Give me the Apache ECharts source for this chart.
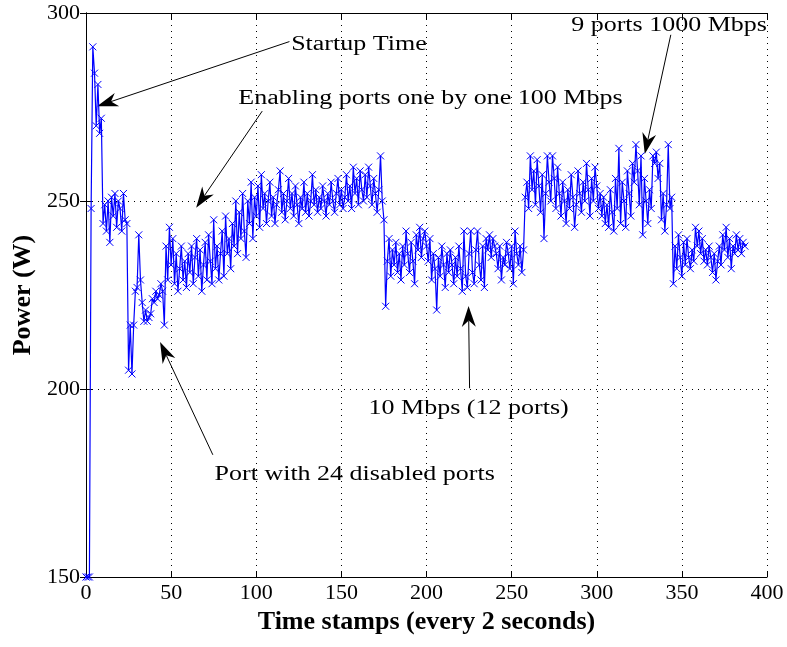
<!DOCTYPE html>
<html>
<head>
<meta charset="utf-8">
<script src="https://cdn.jsdelivr.net/npm/echarts@6/dist/echarts.min.js"></script>
<style>
  html, body { margin: 0; background: #fff; }
  #chart { width: 787px; height: 647px; }
</style>
</head>
<body>
<div id="chart"></div>
<script>
// power readings, one per time stamp (index = time stamp)
var power = [
  150, 150, 150, 248, 291, 284, 270, 281, 268, 272,
  244, 249, 242, 250, 239, 251, 246, 252, 243, 250,
  248, 242, 252, 245, 244, 205, 217, 204, 217, 226,
  227, 241, 229, 223, 218, 221, 218, 219, 220, 224,
  223, 226, 224, 225, 228, 226, 217, 238, 229, 243,
  233, 240, 228, 236, 226, 232, 238, 229, 234, 227,
  236, 231, 238, 228, 235, 240, 230, 237, 226, 233,
  239, 229, 241, 234, 228, 245, 232, 238, 229, 236,
  242, 230, 246, 236, 240, 232, 244, 238, 250, 236,
  247, 240, 252, 242, 235, 250, 244, 255, 240, 251,
  246, 254, 243, 257, 248, 252, 244, 250, 255, 246,
  251, 244, 249, 253, 258, 247, 252, 245, 250, 256,
  248, 252, 246, 254, 249, 244, 251, 248, 255, 247,
  252, 246, 250, 257, 249, 253, 247, 251, 248, 254,
  250, 246, 252, 249, 255, 250, 247, 252, 256, 249,
  253, 248, 251, 257, 250, 254, 248, 259, 252, 256,
  249, 258, 253, 250, 257, 251, 259, 254, 249, 256,
  252, 247, 253, 262, 250, 245, 222, 234, 240, 230,
  237, 233, 239, 231, 236, 229, 238, 233, 242, 236,
  231, 239, 234, 228, 241, 237, 243, 235, 240, 242,
  238, 234, 240, 229, 236, 232, 221, 235, 230, 238,
  233, 227, 236, 231, 237, 233, 228, 235, 230, 238,
  232, 226, 242, 230, 227, 236, 242, 231, 228, 237,
  242, 233, 229, 238, 227, 240, 237, 241, 235, 240,
  238, 236, 232, 238, 229, 235, 233, 239, 236, 232,
  238, 228, 242, 236, 233, 238, 231, 237, 251, 255,
  248, 262, 253, 258, 249, 261, 254, 247, 257, 240,
  252, 262, 255, 250, 262, 256, 248, 259, 252, 246,
  255, 250, 244, 253, 248, 257, 251, 243, 249, 258,
  252, 247, 255, 250, 260, 253, 246, 256, 250, 259,
  254, 248, 252, 246, 251, 244, 249, 243, 253, 247,
  242, 256, 248, 264, 244, 255, 250, 243, 258, 252,
  246, 260, 255, 265, 258, 249, 262, 241, 256, 250,
  244, 253, 248, 262, 260, 263, 256, 260, 245, 252,
  242, 249, 265, 248, 251, 228, 238, 232, 241, 235,
  230, 239, 233, 240, 235, 232, 237, 234, 243, 238,
  242, 236, 240, 234, 237, 233, 238, 235, 231, 236,
  229, 234, 238, 233, 241, 237, 243, 235, 240, 232,
  238, 236, 241, 237, 240, 236, 239, 238
];

var xTicks = [0, 50, 100, 150, 200, 250, 300, 350, 400];
var yTicks = [150, 200, 250, 300];

// annotations: text anchor (left, middle) and arrow tail -> tip, in data units
var noteText = ['Startup Time', 'Enabling ports one by one 100 Mbps', '9 ports 1000 Mbps',
                '10 Mbps (12 ports)', 'Port with 24 disabled ports'];
var noteAt   = [[120.5, 291.5], [89.5, 277.2], [285, 296.5], [166, 194.8], [75.5, 177.2]];
var noteTail = [[119.5, 292.4], [103.5, 273.9], [343.5, 294.2], [225.3, 200.2], [74.5, 182.5]];
var noteTip  = [[6.5, 275.2], [64.7, 248.2], [328.2, 262.5], [224.7, 222.1], [43.5, 212.5]];

var points = power.map(function (v, i) { return [i, v]; });

var chart = echarts.init(document.getElementById('chart'));
var serif = '"Liberation Serif", "DejaVu Serif", serif';
var dotted = { color: '#000', width: 1, type: [1, 5] };

var option = {
  animation: false,
  backgroundColor: '#fff',
  grid: { left: 86, right: 20, top: 13, bottom: 70 },
  xAxis: [{
    type: 'value', min: xTicks[0], max: xTicks[xTicks.length - 1], interval: 50,
    name: 'Time stamps (every 2 seconds)', nameLocation: 'middle', nameGap: 32,
    nameTextStyle: { fontFamily: serif, fontWeight: 'bold', fontSize: 26, color: '#000' },
    axisLine: { lineStyle: { color: '#000', width: 1 } },
    axisTick: { inside: true, length: 6, lineStyle: { color: '#000' } },
    axisLabel: { fontFamily: serif, fontSize: 22, color: '#000', margin: 5 },
    splitLine: { show: true, lineStyle: dotted }
  }, {
    type: 'value', position: 'top', min: xTicks[0], max: xTicks[xTicks.length - 1], interval: 50,
    axisLine: { lineStyle: { color: '#000', width: 1 } },
    axisTick: { inside: true, length: 6, lineStyle: { color: '#000' } },
    axisLabel: { show: false }, splitLine: { show: false }
  }],
  yAxis: [{
    type: 'value', min: yTicks[0], max: yTicks[yTicks.length - 1], interval: 50,
    name: 'Power (W)', nameLocation: 'middle', nameGap: 48,
    nameTextStyle: { fontFamily: serif, fontWeight: 'bold', fontSize: 26, color: '#000' },
    axisLine: { show: true, lineStyle: { color: '#000', width: 1 } },
    axisTick: { show: true, inside: true, length: 6, lineStyle: { color: '#000' } },
    axisLabel: { fontFamily: serif, fontSize: 22, color: '#000', margin: 6 },
    splitLine: { show: true, lineStyle: dotted }
  }, {
    type: 'value', position: 'right', min: yTicks[0], max: yTicks[yTicks.length - 1], interval: 50,
    axisLine: { show: true, lineStyle: { color: '#000', width: 1 } },
    axisTick: { show: true, inside: true, length: 6, lineStyle: { color: '#000' } },
    axisLabel: { show: false }, splitLine: { show: false }
  }],
  series: [{
    type: 'line',
    data: points,
    symbol: 'path://M0,0L10,10M10,0L0,10',
    symbolSize: 7,
    showAllSymbol: true,
    lineStyle: { color: '#0000ff', width: 1.2 },
    itemStyle: { color: 'rgba(0,0,0,0)', borderColor: '#0000ff', borderWidth: 1 },
    clip: true
  }]
};
chart.setOption(option);

// annotations placed through the chart's own coordinate conversion
var gfx = [];
noteText.forEach(function (t, i) {
  var at = chart.convertToPixel({ gridIndex: 0 }, noteAt[i]);
  var tail = chart.convertToPixel({ gridIndex: 0 }, noteTail[i]);
  var tip = chart.convertToPixel({ gridIndex: 0 }, noteTip[i]);
  gfx.push({
    type: 'text', x: at[0], y: at[1], scaleX: 1.3,
    style: { text: t, fontFamily: serif, fontSize: 20, fill: '#000', verticalAlign: 'middle', align: 'left' }
  });
  var dx = tip[0] - tail[0], dy = tip[1] - tail[1];
  var len = Math.sqrt(dx * dx + dy * dy);
  var ux = dx / len, uy = dy / len, nx = -uy, ny = ux;
  var L = 21, W = 7;
  var bx = tip[0] - ux * L, by = tip[1] - uy * L;
  var cx = tip[0] - ux * L * 0.7, cy = tip[1] - uy * L * 0.7;
  gfx.push({
    type: 'line', shape: { x1: tail[0], y1: tail[1], x2: cx, y2: cy },
    style: { stroke: '#000', lineWidth: 1 }
  });
  gfx.push({
    type: 'polygon',
    shape: { points: [[tip[0], tip[1]], [bx + nx * W, by + ny * W], [cx, cy], [bx - nx * W, by - ny * W]] },
    style: { fill: '#000' }
  });
});
chart.setOption({ graphic: gfx });
</script>
</body>
</html>
